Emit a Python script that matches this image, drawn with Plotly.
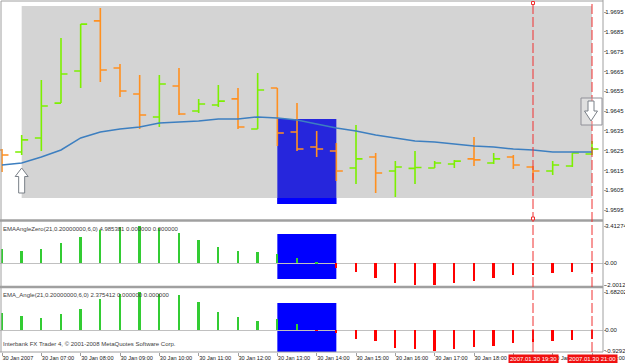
import plotly.graph_objects as go

# ---------------- data ----------------
bar_idx = list(range(31))  # 30-min bars, 30 Jan 2007 06:00 .. 21:00

open_ = [1.96253, 1.96243, 1.96314, 1.96490, 1.96652, 1.96905, 1.96667, 1.96536,
         1.96420, 1.96576, 1.96450, 1.96480, 1.96511, 1.96359, 1.96566, 1.96344,
         1.96268, 1.96248, 1.96162, 1.96218, 1.96147, 1.96160, 1.96162, 1.96182,
         1.96208, 1.96187, 1.96218, 1.96167, 1.96147, 1.96172, 1.96233]
high_ = [1.96258, 1.96329, 1.96607, 1.96819, 1.96889, 1.96970, 1.96687, 1.96632,
         1.96632, 1.96667, 1.96511, 1.96581, 1.96566, 1.96642, 1.96566, 1.96490,
         1.96349, 1.96288, 1.96379, 1.96238, 1.96197, 1.96248, 1.96197, 1.96203,
         1.96319, 1.96238, 1.96228, 1.96172, 1.96197, 1.96238, 1.96298]
low_ = [1.96142, 1.96228, 1.96248, 1.96490, 1.96566, 1.96597, 1.96521, 1.96359,
        1.96369, 1.96430, 1.96440, 1.96470, 1.96359, 1.96359, 1.96273, 1.96248,
        1.96218, 1.96096, 1.96081, 1.96036, 1.96016, 1.96081, 1.96162, 1.96162,
        1.96172, 1.96182, 1.96157, 1.96101, 1.96127, 1.96167, 1.96228]
close_ = [1.96228, 1.96304, 1.96475, 1.96637, 1.96889, 1.96657, 1.96551, 1.96430,
          1.96586, 1.96435, 1.96485, 1.96500, 1.96369, 1.96556, 1.96339, 1.96258,
          1.96258, 1.96147, 1.96208, 1.96137, 1.96167, 1.96165, 1.96187, 1.96197,
          1.96203, 1.96208, 1.96177, 1.96147, 1.96177, 1.96238, 1.96258]
ema_ = [1.96177, 1.96187, 1.96218, 1.96253, 1.96314, 1.96344, 1.96359, 1.96369,
        1.96389, 1.96394, 1.96400, 1.96410, 1.96410, 1.96420, 1.96415, 1.96405,
        1.96384, 1.96364, 1.96349, 1.96329, 1.96314, 1.96298, 1.96293, 1.96283,
        1.96273, 1.96268, 1.96258, 1.96253, 1.96243, 1.96243, 1.96243]

angle_zero = [1.34, 1.13, 1.28, 1.83, 2.44, 3.05, 3.36, 3.41274, 3.20, 2.81, 2.13,
              1.49, 1.16, 1.03, 0.82, 0.52, 0.05, -0.46, -0.82, -1.37, -1.77,
              -1.95, -2.00121, -1.77, -1.58, -1.31, -1.10, -1.07, -0.91, -0.76, -0.76]
ema_angle = [0.745, 0.625, 0.55, 0.70, 0.94, 1.37, 1.59, 1.68202, 1.61, 1.56, 1.26,
             0.80, 0.58, 0.40, 0.48, 0.27, -0.03, -0.12, -0.39, -0.49, -0.79,
             -0.86, -0.92927, -0.86, -0.75, -0.70, -0.58, -0.55, -0.49, -0.45, -0.40]

time_tick_bars = [0, 2, 4, 6, 8, 10, 12, 14, 16, 18, 20, 22, 24, 26, 28, 30]
time_tick_labels = ["30 Jan 2007", "30 Jan 07:00", "30 Jan 08:00", "30 Jan 09:00",
                    "30 Jan 10:00", "30 Jan 11:00", "30 Jan 12:00", "30 Jan 13:00",
                    "30 Jan 14:00", "30 Jan 15:00", "30 Jan 16:00", "30 Jan 17:00",
                    "30 Jan 18:00", "30 Jan 19:00", "30 Jan 20:00", "30 Jan 21:00"]
price_ticks = [1.9595, 1.9605, 1.9615, 1.9625, 1.9635, 1.9645, 1.9655, 1.9665,
               1.9675, 1.9685, 1.9695]
price_tick_labels = ["1.9595", "1.9605", "1.9615", "1.9625", "1.9635", "1.9645",
                     "1.9655", "1.9665", "1.9675", "1.9685", "1.9695"]
sub1_ticks = [3.41274, 0.0, -2.00121]
sub1_labels = ["3.41274", "0.00", "-2.00121"]
sub2_ticks = [1.68202, 0.0, -0.92927]
sub2_labels = ["1.68202", "0.00", "-0.92927"]
vline_bars = [27, 30]
vline_labels = ["2007.01.30 19:30", "2007.01.30 21:00"]

# ---------------- layout helpers ----------------
W, H = 625, 363
PX_PER_BAR = 19.667
X0_PX = 2.0
AXIS_PX = 603.0


def py(y):  # pixel row -> paper y
    return 1 - y / H


def px(x):  # pixel column -> paper x
    return x / W


FONT = "Liberation Sans"
GREEN = "#7CF000"
ORANGE = "#FF9020"
HGREEN = "#33CC33"
HRED = "#FF0000"
GRID = "#A0A0A0"

fig = go.Figure()

fig.add_trace(go.Ohlc(
    x=bar_idx, open=open_, high=high_, low=low_, close=close_,
    increasing=dict(line=dict(color=GREEN, width=1.6)),
    decreasing=dict(line=dict(color=ORANGE, width=1.6)),
    tickwidth=0.33, xaxis="x", yaxis="y", hoverinfo="skip"))

fig.add_trace(go.Scatter(
    x=bar_idx, y=ema_, mode="lines", line=dict(color="#3D7FC0", width=1.5),
    xaxis="x", yaxis="y", hoverinfo="skip"))

fig.add_trace(go.Bar(
    x=bar_idx, y=angle_zero, width=0.1,
    marker=dict(color=[HGREEN if v >= 0 else HRED for v in angle_zero], line=dict(width=0)),
    xaxis="x", yaxis="y2", hoverinfo="skip"))

fig.add_trace(go.Bar(
    x=bar_idx, y=ema_angle, width=0.1,
    marker=dict(color=[HGREEN if v >= 0 else HRED for v in ema_angle], line=dict(width=0)),
    xaxis="x", yaxis="y3", hoverinfo="skip"))

x_left = -X0_PX / PX_PER_BAR
x_right = (AXIS_PX - X0_PX) / PX_PER_BAR


def price_at(ypx):
    return 1.9695 - (ypx - 12) / 19800.0


def sub1_at(ypx):
    return (263.3 - ypx) / 10.93


def sub2_at(ypx):
    return (330.0 - ypx) / 22.4


tickfont = dict(family=FONT, size=6, color="#202020")
timefont = dict(family=FONT, size=5.6, color="#202020")

yax_common = dict(anchor="x", side="right", showgrid=False, automargin=False,
                  ticks="outside", ticklen=2, tickcolor=GRID,
                  ticklabelstandoff=-2, tickfont=tickfont)

fig.update_layout(
    width=W, height=H,
    margin=dict(l=0, r=0, t=0, b=0, autoexpand=False),
    paper_bgcolor="white", plot_bgcolor="white",
    showlegend=False, hovermode=False, bargap=0,
    xaxis=dict(domain=[0, px(AXIS_PX)], range=[x_left, x_right], anchor="y3",
               showgrid=False, zeroline=False, showline=False, automargin=False,
               ticks="outside", ticklen=3, tickcolor=GRID, tickwidth=1,
               tickvals=time_tick_bars, ticktext=time_tick_labels, tickangle=0,
               ticklabelposition="outside right", tickfont=timefont,
               rangeslider=dict(visible=False), fixedrange=True),
    yaxis=dict(domain=[py(220), py(1)], range=[price_at(220), price_at(1)],
               zeroline=False, tickvals=price_ticks, ticktext=price_tick_labels,
               **yax_common),
    yaxis2=dict(domain=[py(287), py(222)], range=[sub1_at(287), sub1_at(222)],
                zeroline=True, zerolinecolor="#C0C0C0", zerolinewidth=1,
                tickvals=sub1_ticks, ticktext=sub1_labels, **yax_common),
    yaxis3=dict(domain=[py(352), py(288)], range=[sub2_at(352), sub2_at(288)],
                zeroline=True, zerolinecolor="#C0C0C0", zerolinewidth=1,
                tickvals=sub2_ticks, ticktext=sub2_labels, **yax_common),
)

shapes = []
# gray chart-shift area
shapes.append(dict(type="rect", xref="x", yref="y", x0=1.0, x1=30.0,
                   y0=price_at(198), y1=price_at(6), fillcolor="#D4D4D4",
                   line=dict(width=0), layer="below"))
# blue rectangles
shapes.append(dict(type="rect", xref="x", yref="y", x0=14, x1=17,
                   y0=price_at(204), y1=price_at(119), fillcolor="#2626DC",
                   line=dict(width=0), layer="below"))
shapes.append(dict(type="rect", xref="x", yref="y", x0=14, x1=17,
                   y0=price_at(204), y1=price_at(198), fillcolor="#0000FF",
                   line=dict(width=0), layer="below"))
shapes.append(dict(type="rect", xref="x", yref="y2", x0=14, x1=17,
                   y0=sub1_at(279), y1=sub1_at(234), fillcolor="#0000FF",
                   line=dict(width=0), layer="below"))
shapes.append(dict(type="rect", xref="x", yref="y3", x0=14, x1=17,
                   y0=sub2_at(352), y1=sub2_at(303), fillcolor="#0000FF",
                   line=dict(width=0), layer="below"))
# frame and separators
for (xa, ya, xb, yb, w) in [(1, 1, AXIS_PX, 1, 1), (1, 1, 1, 352, 1),
                            (AXIS_PX, 0, AXIS_PX, 352, 1), (0, 352, AXIS_PX, 352, 1),
                            (0, 220.5, AXIS_PX, 220.5, 2.5), (0, 287, AXIS_PX, 287, 2.5)]:
    shapes.append(dict(type="line", xref="paper", yref="paper",
                       x0=px(xa), y0=py(ya), x1=px(xb), y1=py(yb),
                       line=dict(color=GRID, width=w)))
# red dashed vertical lines
for b in vline_bars:
    shapes.append(dict(type="line", xref="x", yref="paper", x0=b, x1=b,
                       y0=py(352), y1=py(1),
                       line=dict(color="#F03030", width=1, dash="10px,3px")))
for yy in (3, 218.5):
    shapes.append(dict(type="rect", xref="x", yref="paper", xsizemode="pixel",
                       xanchor=vline_bars[0], x0=-1.5, x1=1.5,
                       y0=py(yy + 1.5), y1=py(yy - 1.5),
                       line=dict(color="#F03030", width=1), fillcolor="white"))
# up arrow (start of data)
shapes.append(dict(type="path", xref="x", yref="y", xsizemode="pixel", ysizemode="pixel",
                   xanchor=1, yanchor=price_at(168),
                   path="M 0 0 L 6.5 -8.5 L 3 -8.5 L 3 -25 L -3 -25 L -3 -8.5 L -6.5 -8.5 Z",
                   fillcolor="white", line=dict(color="#7A8088", width=1)))
# down arrow box (chart end)
shapes.append(dict(type="rect", xref="x", yref="y", xsizemode="pixel", ysizemode="pixel",
                   xanchor=30, yanchor=price_at(98), x0=-11, x1=10, y0=-27, y1=0,
                   fillcolor="rgba(255,255,255,0.25)", line=dict(color="#909098", width=1)))
shapes.append(dict(type="path", xref="x", yref="y", xsizemode="pixel", ysizemode="pixel",
                   xanchor=30, yanchor=price_at(98),
                   path="M -4 -3 L 2 -3 L 2 -13 L 5.5 -13 L -1 -23 L -7.5 -13 L -4 -13 Z",
                   fillcolor="white", line=dict(color="#7A8088", width=1)))
fig.update_layout(shapes=shapes)

annotations = []
txtfont = dict(family=FONT, size=6, color="#404040")
for text, ypix in [("EMAAngleZero(21,0.20000000,6,0) 4.985381 0.000000 0.000000", 229),
                   ("EMA_Angle(21,0.20000000,6,0) 2.375412 0.000000 0.000000", 295),
                   ("Interbank FX Trader 4, © 2001-2008 MetaQuotes Software Corp.", 344)]:
    annotations.append(dict(text=text, xref="paper", yref="paper", x=px(2), y=py(ypix),
                            xanchor="left", yanchor="middle", showarrow=False,
                            font=txtfont, borderpad=0))
for b, lab in zip(vline_bars, vline_labels):
    annotations.append(dict(text=lab, xref="x", yref="paper", x=b, y=py(358.5),
                            xanchor="center", yanchor="middle", showarrow=False,
                            font=dict(family=FONT, size=6, color="white"),
                            bgcolor="#F01010", borderpad=1))
fig.update_layout(annotations=annotations)

fig.write_html("out.html")
